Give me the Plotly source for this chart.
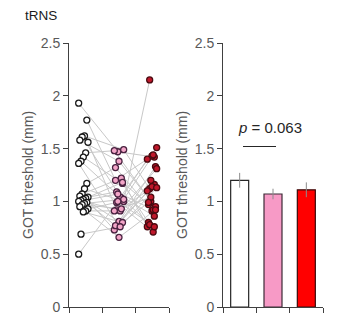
import plotly.graph_objects as go

# --- data ---
groups = ["Pre", "Mid", "Post"]
g1 = [1.93, 1.77, 1.62, 1.61, 1.58, 1.56, 1.46, 1.42, 1.38, 1.36, 1.17, 1.12, 1.07, 1.05,
      1.04, 1.03, 1.02, 1.01, 1.00, 0.99, 0.98, 0.97, 0.95, 0.93, 0.91, 0.90, 0.69, 0.50]
g2 = [1.47, 1.20, 1.49, 1.03, 1.38, 0.92, 1.48, 1.17, 1.04, 0.78, 1.32, 1.00, 1.22, 0.81,
      1.09, 0.73, 1.18, 0.91, 1.07, 0.77, 1.02, 0.93, 0.66, 0.99, 0.91, 0.80, 0.76, 1.00]
g3 = [1.42, 1.43, 1.12, 1.40, 0.95, 1.44, 1.00, 0.80, 1.51, 1.16, 0.91, 2.15, 0.76, 1.33,
      0.92, 1.20, 0.97, 1.31, 0.86, 1.14, 0.78, 1.10, 0.92, 0.71, 1.04, 0.99, 1.13, 0.76]
bar_means = [1.20, 1.07, 1.11]
bar_sem = [0.07, 0.05, 0.07]
y_ticks = [0, 0.5, 1, 1.5, 2, 2.5]
y_ticklabels = ["0", "0.5", "1", "1.5", "2", "2.5"]
y_title = "GOT threshold (mm)"
p_text = "<i>p</i> = 0.063"

FONT = "Arial, Liberation Sans, sans-serif"
GRAY = "#595959"
W, H = 340, 325

fig = go.Figure()

n = len(g1)
centers = [0.93, 2.0, 2.99]
def jit(i, k):
    return ((i * 7 + k * 3) % 9 - 4) * 0.035

# connecting lines
for i in range(n):
    xs = [centers[0] + jit(i, 0), centers[1] + jit(i, 1), centers[2] + jit(i, 2)]
    ys = [g1[i], g2[i], g3[i]]
    fig.add_trace(go.Scatter(x=xs, y=ys, mode="lines", line=dict(color="#c8c8c8", width=1),
                             xaxis="x", yaxis="y", showlegend=False, hoverinfo="skip"))

styles = [("#ffffff", "#1a1a1a"), ("#f3a5c8", "#4a2341"), ("#c0182b", "#4a0a10")]
for k, vals in enumerate([g1, g2, g3]):
    xs = [centers[k] + jit(i, k) for i in range(n)]
    fill, edge = styles[k]
    fig.add_trace(go.Scatter(x=xs, y=vals, mode="markers",
                             marker=dict(size=6, color=fill, line=dict(color=edge, width=1.3)),
                             xaxis="x", yaxis="y", showlegend=False))

# bars
fig.add_trace(go.Bar(x=[1, 2, 3], y=bar_means, width=0.54,
                     marker=dict(color=["#ffffff", "#f79ac6", "#ff0000"],
                                 line=dict(color=["#262626", "#3d2a36", "#3a0a0a"], width=1.2)),
                     error_y=dict(type="data", array=bar_sem, color="#8c8c8c", thickness=1, width=0),
                     xaxis="x2", yaxis="y2", showlegend=False))

# significance line
fig.add_trace(go.Scatter(x=[1.1, 2.09], y=[1.52, 1.52], mode="lines",
                         line=dict(color="#262626", width=1.2), xaxis="x2", yaxis="y2",
                         showlegend=False, hoverinfo="skip"))

ydom = [18 / H, 282 / H]
xax = dict(range=[0.5, 3.5], tickvals=[0.5, 1.5, 2.5, 3.5], ticktext=["", "", "", ""],
           ticks="outside", ticklen=5, tickcolor="#404040", showline=True, linecolor="#404040",
           linewidth=1, showgrid=False, zeroline=False, fixedrange=True, automargin=False)
yax = dict(range=[0, 2.5], tickvals=y_ticks, ticktext=y_ticklabels, ticks="outside", ticklen=5,
           tickcolor="#404040", showline=True, linecolor="#404040", linewidth=1, showgrid=False,
           zeroline=False, tickfont=dict(size=14, color=GRAY, family=FONT),
           domain=ydom, automargin=False)

fig.update_layout(
    width=W, height=H, margin=dict(l=0, r=0, t=0, b=0, autoexpand=False),
    paper_bgcolor="white", plot_bgcolor="white",
    font=dict(family=FONT),
    xaxis=dict(xax, domain=[69 / W, 169 / W], anchor="y"),
    yaxis=dict(yax, anchor="x"),
    xaxis2=dict(xax, domain=[223 / W, 323 / W], anchor="y2"),
    yaxis2=dict(yax, anchor="x2"),
    annotations=[
        dict(text="tRNS", x=23 / W, y=1 - 15 / H, xref="paper", yref="paper",
             xanchor="left", yanchor="middle", showarrow=False,
             font=dict(size=13.5, color="#1a1a1a", family=FONT)),
        dict(text=y_title, x=28 / W, y=1 - 175 / H, xref="paper", yref="paper", textangle=-90,
             xanchor="center", yanchor="middle", showarrow=False,
             font=dict(size=14, color=GRAY, family=FONT)),
        dict(text=y_title, x=182 / W, y=1 - 175 / H, xref="paper", yref="paper", textangle=-90,
             xanchor="center", yanchor="middle", showarrow=False,
             font=dict(size=14, color=GRAY, family=FONT)),
        dict(text=p_text, x=1.92, y=1.70, xref="x2", yref="y2", showarrow=False,
             xanchor="center", yanchor="middle", font=dict(size=15, color="#262626", family=FONT)),
    ],
)

fig.write_html("out.html")
